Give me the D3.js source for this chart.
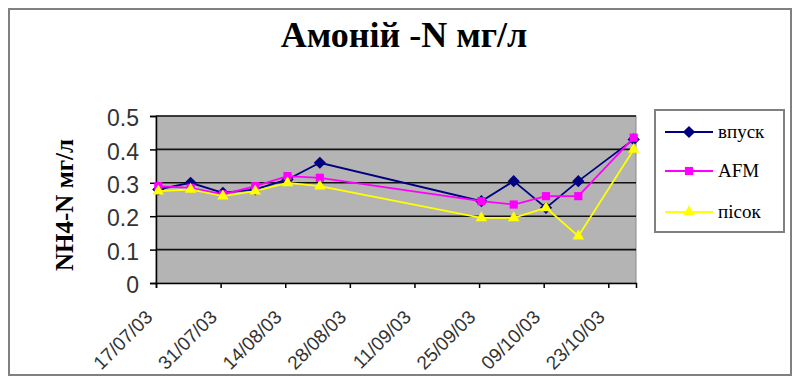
<!DOCTYPE html>
<html>
<head>
<meta charset="utf-8">
<script src="https://cdn.jsdelivr.net/npm/d3@7"></script>
<style>
    body { margin: 0; background: #fff; }
    svg { display: block; }
</style>
</head>
<body>
<div id="wrapper"></div>
<script>
// data
const dates = ["17/07/03", "24/07/03", "31/07/03", "07/08/03", "14/08/03", "21/08/03",
    "25/09/03", "02/10/03", "09/10/03", "16/10/03", "28/10/03"]
const vpusk = [0.28, 0.30, 0.27, 0.28, 0.31, 0.36, 0.245, 0.305, 0.225, 0.305, 0.43]
const afm = [0.29, 0.285, 0.265, 0.29, 0.32, 0.315, 0.245, 0.235, 0.26, 0.26, 0.435]
const pisok = [0.275, 0.28, 0.26, 0.275, 0.30, 0.29, 0.195, 0.195, 0.225, 0.14, 0.40]
const seriesNames = ["впуск", "AFM", "пісок"]
const xTickLabels = ["17/07/03", "31/07/03", "14/08/03", "28/08/03", "11/09/03", "25/09/03", "09/10/03", "23/10/03"]
const yTicks = [0, 0.1, 0.2, 0.3, 0.4, 0.5]

function drawChart() {
    const parseDate = d3.timeParse("%d/%m/%y")

    const dimensions = {
        width: 798,
        height: 376,
        plot: { left: 156, right: 636, top: 116, bottom: 283 }
    }

    const svg = d3.select("#wrapper")
        .append("svg")
        .attr("width", dimensions.width)
        .attr("height", dimensions.height)

    // outer frame
    svg.append("rect")
        .attr("x", 9).attr("y", 9)
        .attr("width", 782).attr("height", 366)
        .attr("fill", "#fff")
        .attr("stroke", "#808080")
        .attr("stroke-width", 2)

    // title
    svg.append("text")
        .attr("x", 404).attr("y", 47)
        .attr("text-anchor", "middle")
        .style("font", "bold 36px 'Liberation Serif', serif")
        .text("Амоній -N мг/л")

    // scales
    const xScale = d3.scaleTime()
        .domain([parseDate("17/07/03"), d3.timeDay.offset(parseDate("17/07/03"), 104)])
        .range([dimensions.plot.left, dimensions.plot.right])

    const yScale = d3.scaleLinear()
        .domain([0, 0.5])
        .range([dimensions.plot.bottom, dimensions.plot.top])

    const xOf = d => xScale(d3.timeHour.offset(parseDate(d), 12))

    // plot area
    svg.append("rect")
        .attr("x", dimensions.plot.left)
        .attr("y", dimensions.plot.top)
        .attr("width", dimensions.plot.right - dimensions.plot.left)
        .attr("height", dimensions.plot.bottom - dimensions.plot.top)
        .attr("fill", "#b4b4b4")
        .attr("stroke", "#8a8a8a")
        .attr("stroke-width", 1)

    // gridlines
    svg.append("g")
        .selectAll("line")
        .data(yTicks.slice(1))
        .join("line")
        .attr("x1", dimensions.plot.left)
        .attr("x2", dimensions.plot.right)
        .attr("y1", d => yScale(d))
        .attr("y2", d => yScale(d))
        .attr("stroke", "#111")
        .attr("stroke-width", 1.6)

    // y axis
    const yAxis = svg.append("g")
        .attr("transform", `translate(${dimensions.plot.left},0)`)
        .call(d3.axisLeft(yScale).tickValues(yTicks).tickSize(6).tickFormat(d3.format("")))
    yAxis.select(".domain").attr("stroke", "#000").attr("stroke-width", 1.5)
    yAxis.selectAll(".tick line").attr("stroke", "#000").attr("stroke-width", 1.5)
    yAxis.selectAll(".tick text")
        .attr("x", -17)
        .attr("dy", "0.42em")
        .attr("fill", "#333")
        .style("font", "23px 'Liberation Sans', Arial, sans-serif")

    // x axis
    const xAxis = svg.append("g")
        .attr("transform", `translate(0,${dimensions.plot.bottom})`)
        .call(d3.axisBottom(xScale)
            .tickValues(xTickLabels.map(parseDate))
            .tickSize(5)
            .tickFormat(d3.timeFormat("%d/%m/%y")))
    xAxis.select(".domain").attr("stroke", "#000").attr("stroke-width", 1.5)
    xAxis.selectAll(".tick line").attr("stroke", "#000").attr("stroke-width", 1.5)
    xAxis.selectAll(".tick text")
        .attr("transform", "rotate(-45)")
        .attr("text-anchor", "end")
        .attr("x", -27)
        .attr("y", 23)
        .attr("dy", 0)
        .attr("fill", "#333")
        .style("font", "19px 'Liberation Sans', Arial, sans-serif")

    // y axis label
    svg.append("text")
        .attr("transform", "translate(73,205) rotate(-90)")
        .attr("text-anchor", "middle")
        .style("font", "bold 25px 'Liberation Serif', serif")
        .text("NH4-N мг/л")

    // series
    const series = [
        { name: seriesNames[0], values: vpusk, color: "#000080", symbol: d3.symbolDiamond2, size: 95 },
        { name: seriesNames[1], values: afm, color: "#ff00ff", symbol: d3.symbolSquare2, size: 85 },
        { name: seriesNames[2], values: pisok, color: "#ffff00", symbol: d3.symbolTriangle2, size: 95 }
    ]

    const lineGenerator = d3.line()
        .x((d, i) => xOf(dates[i]))
        .y(d => yScale(d))

    series.forEach(s => {
        const g = svg.append("g")
        g.append("path")
            .datum(s.values)
            .attr("d", lineGenerator)
            .attr("fill", "none")
            .attr("stroke", s.color)
            .attr("stroke-width", 1.8)
        g.selectAll("path.marker")
            .data(s.values)
            .join("path")
            .attr("class", "marker")
            .attr("d", d3.symbol(s.symbol, s.size))
            .attr("transform", (d, i) => `translate(${xOf(dates[i])},${yScale(d)})`)
            .attr("fill", s.color)
    })

    // legend
    const legend = svg.append("g")
    legend.append("rect")
        .attr("x", 655).attr("y", 110)
        .attr("width", 129).attr("height", 122)
        .attr("fill", "#fff")
        .attr("stroke", "#808080")
        .attr("stroke-width", 2)

    const legendY = [132, 171, 212]
    series.forEach((s, i) => {
        const row = legend.append("g")
            .attr("transform", `translate(0,${legendY[i]})`)
        row.append("line")
            .attr("x1", 665).attr("x2", 713)
            .attr("stroke", s.color)
            .attr("stroke-width", 1.8)
        row.append("path")
            .attr("d", d3.symbol(s.symbol, s.size))
            .attr("transform", "translate(689,0)")
            .attr("fill", s.color)
        row.append("text")
            .attr("x", 718).attr("y", 0)
            .attr("dy", "0.33em")
            .style("font", "19px 'Liberation Serif', serif")
            .text(s.name)
    })
}

drawChart()
</script>
</body>
</html>
